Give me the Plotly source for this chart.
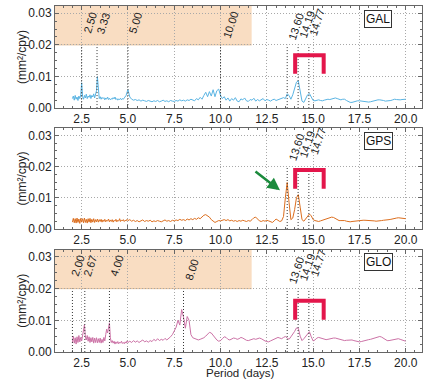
import numpy as np
import plotly.graph_objects as go

# ---------------- data (spectral power, units of 1e-4 mm^2/cpy) ----------------
# period grid: 2.00-5.00 step 0.05, 5.1-10.0 step 0.1, 10.1-20.0 step 0.1
period = np.round(np.concatenate([np.arange(2.0, 5.0001, 0.05),
                                  np.arange(5.1, 10.0001, 0.1),
                                  np.arange(10.1, 20.0001, 0.1)]), 2)

gal_a = [30, 38, 25, 40, 28, 35, 24, 38, 30, 42,
         80, 36, 28, 40, 32, 44, 30, 38, 34, 42,
         30, 40, 35, 45, 32, 48, 55, 99, 45, 30,
         36, 28, 34, 30, 33, 26, 32, 28, 35, 27,
         31, 26, 30, 28, 33, 29, 35, 27, 30, 25,
         29, 27, 31, 26, 30, 28, 32, 35, 40, 50,
         58]
gal_b = [35, 28, 25, 27, 24, 26, 22, 25, 23, 21,
         24, 22, 20, 23, 21, 24, 20, 22, 25, 21,
         23, 20, 24, 22, 21, 24, 22, 26, 23, 25,
         22, 26, 24, 28, 25, 23, 30, 26, 34, 28,
         40, 50, 36, 52, 38, 58, 36, 55, 60, 40]
gal_c = [30, 36, 25, 32, 22, 30, 25, 33, 22, 20,
         29, 26, 32, 23, 21, 27, 25, 31, 22, 27,
         23, 26, 30, 23, 27, 25, 22, 26, 28, 24,
         26, 27, 29, 33, 30, 45, 40, 28, 42, 66,
         82, 86, 48, 22, 18, 28, 42, 46, 34, 24,
         23, 25, 26, 24, 23, 25, 27, 28, 27, 28,
         30, 32, 30, 27, 26, 28, 28, 24, 20, 18,
         18, 20, 22, 23, 23, 22, 21, 20, 19, 19,
         20, 22, 24, 25, 26, 26, 26, 24, 22, 22,
         23, 24, 26, 28, 27, 26, 26, 27, 27, 28]

gps_a = [22, 34, 20, 33, 19, 35, 21, 32, 18, 34,
         22, 33, 20, 35, 21, 31, 19, 33, 22, 34,
         20, 31, 22, 33, 21, 30, 23, 32, 22, 30,
         24, 31, 22, 29, 24, 31, 23, 28, 25, 32,
         23, 29, 24, 30, 22, 28, 25, 31, 23, 28,
         25, 33, 24, 29, 26, 30, 24, 28, 26, 31,
         27]
gps_b = [30, 25, 28, 24, 27, 23, 26, 29, 24, 27,
         25, 28, 23, 26, 24, 27, 25, 23, 26, 29,
         25, 27, 24, 28, 26, 29, 27, 31, 28, 30,
         27, 32, 29, 33, 30, 34, 31, 36, 33, 40,
         44, 46, 42, 38, 30, 24, 21, 24, 27, 26]
gps_c = [28, 30, 27, 30, 26, 28, 25, 27, 24, 27,
         25, 28, 26, 24, 27, 25, 30, 36, 38, 30,
         26, 24, 27, 25, 28, 26, 23, 21, 26, 32,
         28, 24, 26, 40, 100, 149, 85, 30, 35, 62,
         100, 110, 70, 30, 25, 33, 40, 48, 42, 30,
         27, 25, 24, 26, 28, 30, 31, 33, 36, 38,
         37, 33, 29, 27, 27, 28, 27, 25, 23, 23,
         24, 25, 26, 27, 27, 28, 28, 28, 28, 27,
         27, 26, 26, 25, 25, 26, 27, 28, 28, 29,
         30, 31, 33, 34, 35, 36, 35, 34, 33, 33]

glo_a = [30, 50, 28, 45, 25, 48, 30, 52, 32, 46,
         35, 55, 70, 86, 48, 38, 52, 34, 48, 30,
         45, 32, 46, 28, 44, 30, 45, 29, 42, 30,
         44, 28, 40, 30, 46, 35, 55, 72, 60, 80,
         92, 45, 30, 36, 28, 34, 25, 32, 27, 33,
         26, 31, 28, 34, 27, 30, 26, 32, 28, 35,
         30]
glo_b = [34, 30, 36, 31, 35, 30, 34, 38, 32, 35,
         31, 36, 33, 40, 35, 42, 36, 40, 37, 43,
         38, 42, 48, 55, 65, 78, 100, 85, 134, 110,
         75, 112, 100, 55, 45, 42, 40, 38, 40, 42,
         45, 50, 56, 62, 60, 52, 44, 38, 34, 36]
glo_c = [42, 48, 46, 40, 38, 42, 44, 43, 40, 42,
         46, 44, 40, 37, 36, 38, 40, 42, 40, 41,
         44, 42, 38, 35, 33, 32, 35, 38, 41, 44,
         46, 44, 42, 46, 49, 44, 40, 48, 55, 65,
         76, 75, 50, 36, 42, 50, 60, 64, 48, 35,
         38, 44, 46, 44, 41, 39, 39, 40, 42, 43,
         44, 44, 42, 40, 38, 37, 36, 37, 38, 39,
         38, 36, 34, 33, 32, 33, 35, 37, 38, 39,
         40, 42, 44, 46, 48, 49, 47, 43, 39, 36,
         36, 37, 39, 41, 42, 42, 40, 38, 36, 34]

gal = np.array(gal_a + gal_b + gal_c) * 1e-4
gps = np.array(gps_a + gps_b + gps_c) * 1e-4
glo = np.array(glo_a + glo_b + glo_c) * 1e-4

panel_names = ["GAL", "GPS", "GLO"]
peaks = [[2.50, 3.33, 5.00, 10.00, 13.60, 14.19, 14.77],
         [13.60, 14.19, 14.77],
         [2.00, 2.67, 4.00, 8.00, 13.60, 14.19, 14.77]]
peak_labels = [["2.50", "3.33", "5.00", "10.00", "13.60", "14.19", "14.77"],
               ["13.60", "14.19", "14.77"],
               ["2.00", "2.67", "4.00", "8.00", "13.60", "14.19", "14.77"]]

x_ticks = [2.5, 5.0, 7.5, 10.0, 12.5, 15.0, 17.5, 20.0]
y_ticks = [0.00, 0.01, 0.02, 0.03]

# ---------------- styling ----------------
colors = ["#5ab4e3", "#dc6e1e", "#cc72a6"]
FONT = "Liberation Sans, Arial, sans-serif"
XR = [1.06, 20.88]
YR = [0.0, 0.0323]
domains = [[0.705, 1.0], [0.3555, 0.647], [0.0, 0.2957]]
# label offsets (px): dx, dy below top of panel
lab_dx = [[8, 6, 7, 10, 9, 9, 8], [9, 9, 9], [5, 5, 7, 8, 9, 9, 9]]
lab_dy = [[16.5, 18, 16.5, 19, 20, 18, 16], [18.4, 15.7, 12.7], [16, 16, 16, 20, 20, 17, 13]]
bracket = [(14.03, 15.57, 0.01083, 0.01674), (14.03, 15.57, 0.0129, 0.0189), (14.03, 15.57, 0.0102, 0.0162)]
shade_x1 = 11.68

fig = go.Figure()
series = [gal, gps, glo]
for i in range(3):
    sfx = "" if i == 0 else str(i + 1)
    fig.add_trace(go.Scatter(x=period, y=series[i], mode="lines",
                             line=dict(color=colors[i], width=1),
                             xaxis="x" + sfx, yaxis="y" + sfx,
                             showlegend=False, hoverinfo="skip"))

axis_common = dict(showline=True, linecolor="#666", linewidth=1, mirror="allticks",
                   ticks="inside", ticklen=4, tickcolor="#666",
                   showgrid=True, gridcolor="#a8a8a8", griddash="1px,2px", gridwidth=1,
                   zeroline=False, tickfont=dict(family=FONT, size=12, color="#222"))

layout = dict(width=431, height=379, margin=dict(l=55, r=9, t=6, b=27),
              paper_bgcolor="white", plot_bgcolor="white", showlegend=False)
shapes = []
annotations = []
for i in range(3):
    sfx = "" if i == 0 else str(i + 1)
    layout["xaxis" + sfx] = dict(axis_common, domain=[0, 1], range=XR, anchor="y" + sfx,
                                 tickmode="array", tickvals=x_ticks, tickformat=".1f",
                                 minor=dict(ticks="inside", ticklen=2, tickcolor="#666",
                                            tickmode="linear", tick0=0, dtick=0.5, showgrid=False))
    layout["yaxis" + sfx] = dict(axis_common, domain=domains[i], range=YR, anchor="x" + sfx,
                                 tickmode="array", tickvals=y_ticks, tickformat=".2f",
                                 minor=dict(ticks="inside", ticklen=2, tickcolor="#666",
                                            tickmode="linear", tick0=0, dtick=0.0025, showgrid=False))
    xr, yr = "x" + sfx, "y" + sfx
    # shaded box (GAL, GLO)
    if i != 1:
        shapes.append(dict(type="rect", xref=xr, yref=yr + " domain", x0=XR[0], x1=shade_x1,
                           y0=0.02 / YR[1], y1=1, fillcolor="#f9ddc2", line=dict(width=0), layer="below"))
        shapes.append(dict(type="line", xref=xr, yref=yr, x0=XR[0], x1=shade_x1, y0=0.02, y1=0.02,
                           line=dict(color="#e6bf98", width=1), layer="below"))
    # peak lines and labels
    for p, lab, dx, dy in zip(peaks[i], peak_labels[i], lab_dx[i], lab_dy[i]):
        shapes.append(dict(type="line", xref=xr, yref=yr, x0=p, x1=p, y0=0, y1=0.02,
                           line=dict(color="#333", width=1, dash="1px,2px")))
        annotations.append(dict(x=p, y=1, xref=xr, yref=yr + " domain", text=lab, showarrow=False,
                                textangle=-72, xanchor="center", yanchor="middle",
                                xshift=dx, yshift=-dy, font=dict(family=FONT, size=11, color="#222")))
    # red bracket
    bx0, bx1, by0, by1 = bracket[i]
    shapes.append(dict(type="path", xref=xr, yref=yr,
                       path=f"M {bx0},{by0} L {bx0},{by1} L {bx1},{by1} L {bx1},{by0}",
                       line=dict(color="#e3164b", width=4)))
    # constellation label box
    annotations.append(dict(x=18.53, y=1, xref=xr, yref=yr + " domain", text=panel_names[i],
                            showarrow=False, xanchor="center", yanchor="middle", yshift=-12.5,
                            font=dict(family=FONT, size=12, color="#111"),
                            bordercolor="#333", borderwidth=1, borderpad=1, bgcolor="white"))
    # y-axis title
    annotations.append(dict(x=-0.09, y=sum(domains[i]) / 2, xref="paper", yref="paper",
                            text="(mm²/cpy)", textangle=-90, showarrow=False,
                            xanchor="center", yanchor="middle",
                            font=dict(family=FONT, size=12, color="#222")))

# green arrow in GPS panel
annotations.append(dict(x=13.21, y=0.01237, xref="x2", yref="y2", text="", showarrow=True,
                        ax=-26, ay=-20, arrowhead=2, arrowsize=1, arrowwidth=2.5,
                        arrowcolor="#1b8a3c"))
# x title
annotations.append(dict(x=0.5, y=-0.0775, xref="paper", yref="paper", text="Period (days)",
                        showarrow=False, xanchor="center", yanchor="bottom", xshift=2,
                        yshift=-1, borderpad=0,
                        font=dict(family=FONT, size=11.5, color="#222")))

layout["shapes"] = shapes
layout["annotations"] = annotations
fig.update_layout(**layout)
fig.write_html("out.html", config={"displayModeBar": False},
               post_script="document.body.style.margin='0';")
